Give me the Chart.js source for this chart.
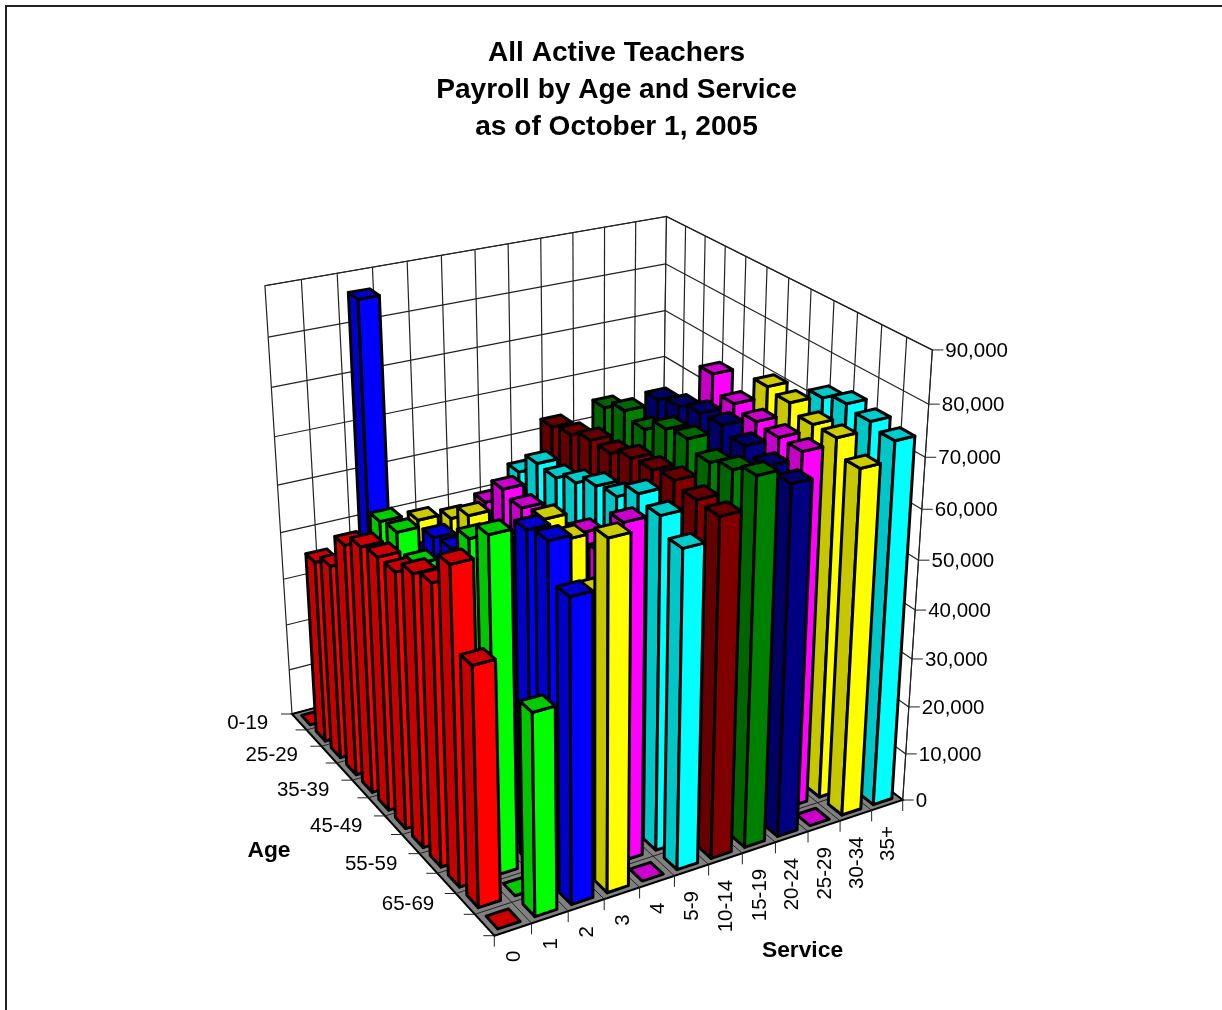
<!DOCTYPE html>
<html>
<head>
<meta charset="utf-8">
<title>All Active Teachers</title>
<script src="https://cdn.jsdelivr.net/npm/chart.js@4"></script>
<style>
  html, body { margin: 0; padding: 0; background: #fff; overflow: hidden; }
  canvas { display: block; }
</style>
</head>
<body>
<canvas id="payroll" width="1222" height="1010"></canvas>
<script>
const ageLabels = ['0-19', '20-24', '25-29', '30-34', '35-39', '40-44', '45-49', '50-54', '55-59', '60-64', '65-69', '70+'];
const serviceLabels = ['0', '1', '2', '3', '4', '5-9', '10-14', '15-19', '20-24', '25-29', '30-34', '35+'];
const titleLines = ['All Active Teachers', 'Payroll by Age and Service', 'as of October 1, 2005'];

// average payroll, one array per service band, ordered by age band
const service0 = [0, 38800, 41100, 48400, 51100, 52100, 52300, 55100, 56500, 63000, 47600, 0];
const service1 = [0, 36000, 38000, 51500, 52300, 49000, 46000, 48000, 63000, 66700, 0, 40300];
const service2 = [86400, 38000, 40000, 43000, 49500, 50300, 50000, 54000, 58000, 65900, 66900, 59800];
const service3 = [0, 42600, 40000, 48800, 52300, 48000, 52000, 55000, 63300, 62400, 55500, 68700];
const service4 = [0, 0, 42000, 50500, 56000, 55100, 54000, 54000, 59000, 58000, 66900, 0];
const service5to9 = [0, 0, 45000, 55100, 59600, 59500, 61300, 63500, 64300, 67700, 66500, 63400];
const service10to14 = [0, 0, 0, 62800, 63800, 65400, 65500, 67300, 67800, 68600, 67800, 67600];
const service15to19 = [0, 0, 0, 0, 67800, 69800, 68700, 71400, 72200, 70400, 71800, 73500];
const service20to24 = [0, 0, 0, 0, 0, 70500, 71700, 73000, 73300, 72000, 70900, 70400];
const service25to29 = [0, 0, 0, 0, 0, 0, 76700, 73400, 72500, 72100, 72100, 0];
const service30to34 = [0, 0, 0, 0, 0, 0, 0, 75300, 74700, 73100, 73200, 70100];
const service35plus = [0, 0, 0, 0, 0, 0, 0, 0, 74200, 75600, 74800, 73800];

const serviceSeries = [service0, service1, service2, service3, service4, service5to9,
  service10to14, service15to19, service20to24, service25to29, service30to34, service35plus];
const serviceColors = ['#ff0000', '#00ff00', '#0000ff', '#ffff00', '#ff00ff', '#00ffff',
  '#800000', '#008000', '#000080', '#ff00ff', '#ffff00', '#00ffff'];

// camera: floor corners on screen, where the verticals meet, and the height factor
const floorFront = [494.3, 935.7];
const floorRight = [902.7, 800];
const floorLeft = [292, 714];
const floorBack = [661, 615];
const verticalVanish = [594, 5491];
const heightFactor = -0.0967;
const barShare = 0.6;

const den = (floorRight[0] - floorBack[0]) * (floorLeft[1] - floorBack[1]) - (floorLeft[0] - floorBack[0]) * (floorRight[1] - floorBack[1]);
const sumX = floorFront[0] - floorRight[0] + floorBack[0] - floorLeft[0];
const sumY = floorFront[1] - floorRight[1] + floorBack[1] - floorLeft[1];
const gU = (sumX * (floorLeft[1] - floorBack[1]) - (floorLeft[0] - floorBack[0]) * sumY) / den;
const gV = ((floorRight[0] - floorBack[0]) * sumY - sumX * (floorRight[1] - floorBack[1])) / den;

// u runs along the service edge, v along the age edge, h up the value axis (all 0..1)
function project(u, v, h) {
  const w = 1 + gU * u + gV * v + heightFactor * h;
  const px = floorFront[0] + (floorRight[0] * (1 + gU) - floorFront[0]) * u + (floorLeft[0] * (1 + gV) - floorFront[0]) * v + heightFactor * h * verticalVanish[0];
  const py = floorFront[1] + (floorRight[1] * (1 + gU) - floorFront[1]) * u + (floorLeft[1] * (1 + gV) - floorFront[1]) * v + heightFactor * h * verticalVanish[1];
  return [px / w, py / w];
}

function shade(hex, f) {
  const n = parseInt(hex.slice(1), 16);
  return 'rgb(' + Math.round((n >> 16) * f) + ',' + Math.round(((n >> 8) & 255) * f) + ',' + Math.round((n & 255) * f) + ')';
}

function poly(ctx, pts, fill) {
  ctx.beginPath();
  pts.forEach((p, i) => i ? ctx.lineTo(p[0], p[1]) : ctx.moveTo(p[0], p[1]));
  ctx.closePath();
  if (fill) {
    ctx.fillStyle = fill;
    ctx.fill();
  }
  ctx.stroke();
}

function line(ctx, a, b) {
  ctx.beginPath();
  ctx.moveTo(a[0], a[1]);
  ctx.lineTo(b[0], b[1]);
  ctx.stroke();
}

const heightOf = (scale, value) => (scale.bottom - scale.getPixelForValue(value)) / scale.height;
const acrossOf = (scale, index) => (scale.getPixelForValue(index) - scale.left) / scale.width;

// bars painted as projected boxes; Chart.js draws the last dataset first, so
// the far service bands go down before the near ones
class Bar3dController extends Chart.BarController {
  draw() {
    const ctx = this.chart.ctx;
    const ageScale = this.chart.scales.x;
    const serviceScale = this.chart.scales.service;
    const valueScale = this.chart.scales.y;
    const values = this.getDataset().data;
    const color = this.getDataset().backgroundColor;
    const u = acrossOf(serviceScale, this.index);
    const hu = barShare / (2 * serviceLabels.length);
    const hv = barShare / (2 * ageLabels.length);

    ctx.save();
    ctx.strokeStyle = '#000';
    ctx.lineWidth = 3;
    ctx.lineJoin = 'round';
    values.forEach((value, i) => {
      const v = 1 - acrossOf(ageScale, i);
      const h = heightOf(valueScale, value);
      const u0 = u - hu, u1 = u + hu, v0 = v - hv, v1 = v + hv;
      if (h > 0) {
        poly(ctx, [project(u0, v1, 0), project(u0, v0, 0), project(u0, v0, h), project(u0, v1, h)], shade(color, 0.78));
        poly(ctx, [project(u0, v0, 0), project(u1, v0, 0), project(u1, v0, h), project(u0, v0, h)], color);
      }
      poly(ctx, [project(u0, v0, h), project(u1, v0, h), project(u1, v1, h), project(u0, v1, h)], shade(color, 0.8));
    });
    ctx.restore();
  }
}
Bar3dController.id = 'bar3d';
Chart.register(Bar3dController);

const chartFrame = {
  id: 'chartFrame',
  beforeDraw(chart) {
    const ctx = chart.ctx;
    ctx.save();
    ctx.fillStyle = '#fff';
    ctx.fillRect(0, 0, chart.width, chart.height);
    ctx.strokeStyle = '#222';
    ctx.lineWidth = 2;
    ctx.strokeRect(6, 6, chart.width + 20, chart.height + 20);
    ctx.restore();
  }
};

// walls, floor, tick marks and the axis texts
const box3d = {
  id: 'box3d',
  beforeDatasetsDraw(chart) {
    const ctx = chart.ctx;
    const valueScale = chart.scales.y;
    const nS = serviceLabels.length;
    const nA = ageLabels.length;
    ctx.save();

    ctx.strokeStyle = '#222';
    ctx.lineWidth = 1.2;
    poly(ctx, [project(0, 1, 0), project(1, 1, 0), project(1, 1, 1), project(0, 1, 1)], '#fff');
    poly(ctx, [project(1, 1, 0), project(1, 0, 0), project(1, 0, 1), project(1, 1, 1)], '#fff');
    for (let k = 1; k < nS; k++) line(ctx, project(k / nS, 1, 0), project(k / nS, 1, 1));
    for (let k = 1; k < nA; k++) line(ctx, project(1, k / nA, 0), project(1, k / nA, 1));

    valueScale.ticks.forEach(tick => {
      const h = heightOf(valueScale, tick.value);
      line(ctx, project(0, 1, h), project(1, 1, h));
      line(ctx, project(1, 1, h), project(1, 0, h));
    });

    ctx.strokeStyle = '#000';
    ctx.lineWidth = 2;
    poly(ctx, [project(0, 0, 0), project(1, 0, 0), project(1, 1, 0), project(0, 1, 0)], '#808080');
    ctx.lineWidth = 1;
    ctx.strokeStyle = '#222';
    for (let k = 1; k < nS; k++) line(ctx, project(k / nS, 0, 0), project(k / nS, 1, 0));
    for (let k = 1; k < nA; k++) line(ctx, project(0, k / nA, 0), project(1, k / nA, 0));

    // value axis on the right corner
    ctx.fillStyle = '#000';
    ctx.font = '20.5px "Liberation Sans", Arial, sans-serif';
    ctx.textAlign = 'left';
    ctx.textBaseline = 'middle';
    line(ctx, project(1, 0, 0), project(1, 0, 1));
    valueScale.ticks.forEach(tick => {
      const p = project(1, 0, heightOf(valueScale, tick.value));
      line(ctx, p, [p[0] + 11, p[1]]);
      ctx.fillText(tick.value.toLocaleString('en-US'), p[0] + 13, p[1] + 1);
    });

    // age axis, every second band labelled
    ctx.textAlign = 'right';
    for (let k = 0; k <= nA; k++) {
      const p = project(0, k / nA, 0);
      line(ctx, p, [p[0] - 11, p[1]]);
    }
    ageLabels.forEach((label, i) => {
      if (i % 2) return;
      const p = project(0, 1 - acrossOf(chart.scales.x, i), 0);
      ctx.fillText(label, p[0] - 31, p[1] + 1);
    });

    // service axis, labels turned to read upwards
    for (let k = 0; k <= nS; k++) {
      const p = project(k / nS, 0, 0);
      line(ctx, p, [p[0], p[1] + 11]);
    }
    serviceLabels.forEach((label, i) => {
      const p = project(acrossOf(chart.scales.service, i), 0, 0);
      ctx.save();
      ctx.translate(p[0], p[1] + 21);
      ctx.rotate(-Math.PI / 2);
      ctx.textAlign = 'right';
      ctx.fillText(label, 0, 1);
      ctx.restore();
    });

    ctx.font = 'bold 22.8px "Liberation Sans", Arial, sans-serif';
    ctx.textAlign = 'center';
    ctx.fillText('Age', 269, 851);
    ctx.fillText('Service', 802.5, 951);
    ctx.restore();
  }
};

new Chart(document.getElementById('payroll'), {
  type: 'bar3d',
  data: {
    labels: ageLabels,
    datasets: serviceSeries.map((values, i) => ({
      label: serviceLabels[i],
      data: values,
      backgroundColor: serviceColors[i],
      clip: false
    }))
  },
  options: {
    responsive: false,
    animation: false,
    events: [],
    layout: { padding: { left: 11 } },
    plugins: {
      legend: { display: false },
      tooltip: { enabled: false },
      title: {
        display: true,
        text: titleLines,
        color: '#000',
        font: { family: '"Liberation Sans", Arial, sans-serif', size: 28.1, weight: 'bold', lineHeight: 1.317 },
        padding: { top: 35, bottom: 10 }
      }
    },
    scales: {
      x: { type: 'category', offset: true, display: false },
      y: { type: 'linear', min: 0, max: 90000, ticks: { stepSize: 10000 }, display: false },
      service: { type: 'category', axis: 'x', labels: serviceLabels, offset: true, display: false }
    }
  },
  plugins: [chartFrame, box3d]
});
</script>
</body>
</html>
